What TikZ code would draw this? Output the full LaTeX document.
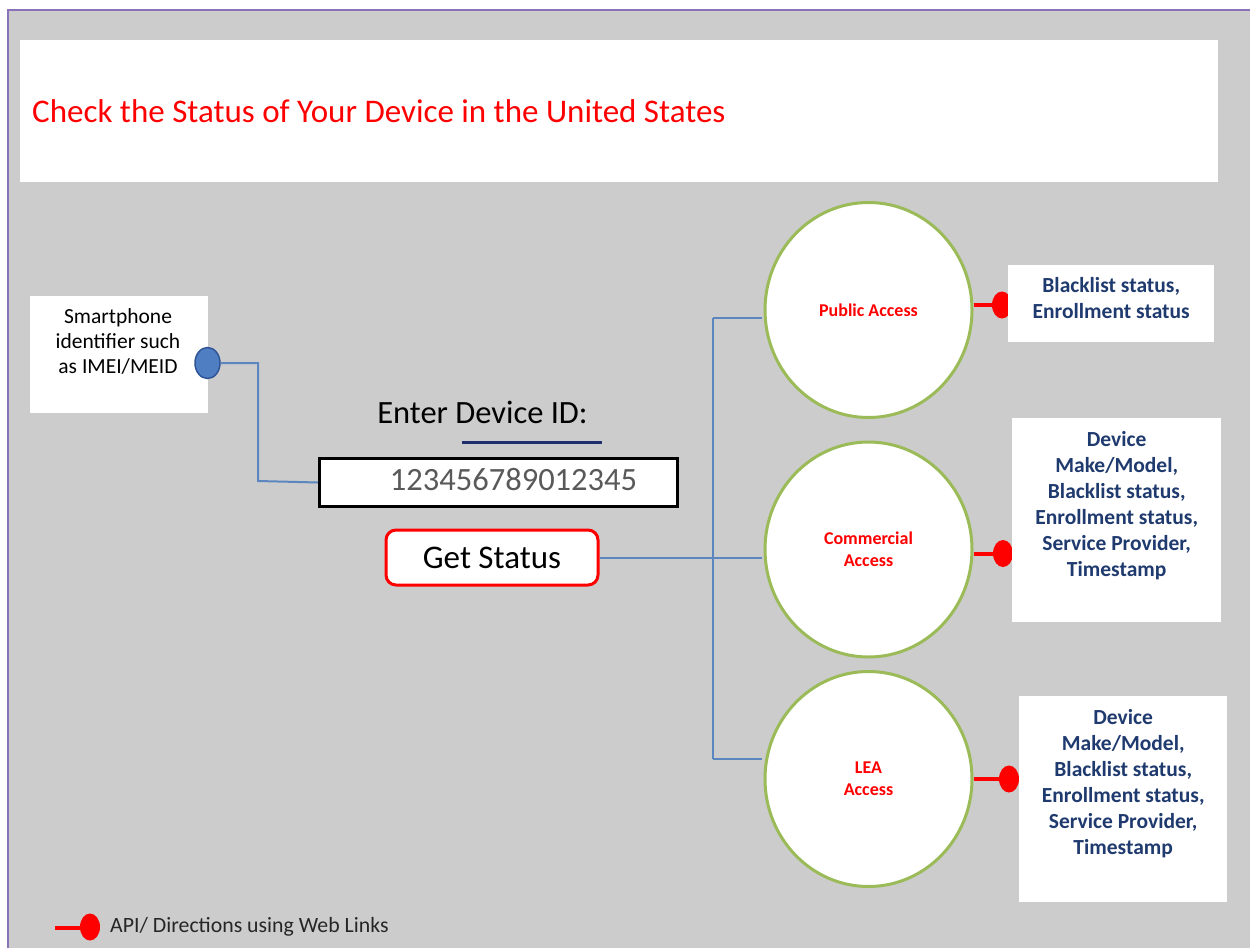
\documentclass[tikz,border=0pt]{standalone}
\usepackage{fontspec}
\setmainfont{Carlito}
\usetikzlibrary{shapes.geometric}

\definecolor{panelgray}{HTML}{CCCCCC}
\definecolor{framepurple}{HTML}{8A72B8}
\definecolor{linkblue}{HTML}{5B86BF}
\definecolor{dotblue}{HTML}{4F7EC2}
\definecolor{dotedge}{HTML}{2F5597}
\definecolor{ringgreen}{HTML}{9BBB59}
\definecolor{infonavy}{HTML}{1F3A6E}
\definecolor{barnavy}{HTML}{1F2F6B}
\definecolor{apired}{HTML}{FF0000}
\definecolor{digitgray}{HTML}{595959}

\tikzset{
	whitebox/.style={rectangle, fill=white, inner sep=0pt, anchor=north west},
	access/.style={ellipse, draw=ringgreen, line width=3pt, fill=white,
		minimum width=207pt, minimum height=215pt, inner sep=0pt,
		text=apired, align=center, font=\fontsize{18}{22}\selectfont\bfseries},
	apidot/.style={ellipse, fill=apired, minimum width=20pt, minimum height=27pt, inner sep=0pt},
	apiline/.style={draw=apired, line width=4pt},
	link/.style={draw=linkblue, line width=2pt},
	infotext/.style={text=infonavy, align=center, inner sep=0pt, anchor=north,
		font=\fontsize{21.5}{26}\selectfont\bfseries},
}

\begin{document}
\begin{tikzpicture}[x=1pt, y=-1pt]

% background %{{{2

	\useasboundingbox (0,0) rectangle (1250,948);
	\fill[white] (0,0) rectangle (1250,948);
	\fill[panelgray] (8,10) rectangle (1250,948);
	\draw[framepurple, line width=2.5pt] (8,948) -- (8,10) -- (1250,10);

% title %{{{2

	\node[whitebox, minimum width=1198pt, minimum height=142pt] (titlebox) at (20,40) {};
	\node[anchor=base west, inner sep=0pt, text=apired, font=\fontsize{33}{40}\selectfont]
	(title) at (32,122) {Check the Status of Your Device in the United States};

% device id %{{{2

	\node[whitebox, minimum width=178pt, minimum height=117pt] (phone) at (30,296) {};
	\node[anchor=north, inner sep=0pt, align=center, font=\fontsize{21.5}{25}\selectfont]
	(phonetext) at (118,308) {Smartphone\\identifier such\\as IMEI/MEID};
	\node[ellipse, fill=dotblue, draw=dotedge, line width=1.5pt, minimum width=25pt,
	minimum height=31pt, inner sep=0pt] (iddot) at (207.5,363) {};

	\node[anchor=base, inner sep=0pt, font=\fontsize{32.5}{36}\selectfont]
	(idlabel) at (482.5,423) {Enter Device ID:};
	\draw[barnavy, line width=3pt] (462,442) -- (602,442);

	\node[whitebox, draw=black, line width=3pt, minimum width=358pt, minimum height=48pt]
	(idbox) at (318,457) {};
	\node[anchor=base, inner sep=0pt, text=digitgray, font=\fontsize{32.5}{36}\selectfont]
	(idnum) at (513.5,490) {123456789012345};

	\node[rectangle, rounded corners=10pt, draw=apired, line width=3pt, fill=white,
	minimum width=212pt, minimum height=55pt, font=\fontsize{33}{36}\selectfont]
	(getstatus) at (492,557.5) {Get Status};

	\coordinate (bend) at (258,481);
	\draw[link] (iddot.east) -| (bend) -- (idbox.west);

% access levels %{{{2

	\node[access] (public) at (868.5,310) {Public Access};
	\node[access] (commercial) at (868.5,549.5) {Commercial\\Access};
	\node[access] (lea) at (868.5,779) {LEA\\Access};

	\coordinate (trunktop) at (713,318);
	\coordinate (trunkbot) at (713,759);
	\draw[link, shorten >=1.5pt] (trunktop) -- (public.west |- trunktop);
	\draw[link] (trunktop) -- (trunkbot);
	\draw[link, shorten >=1.5pt] (trunkbot) -- (lea.west |- trunkbot);
	\draw[link, shorten >=1.5pt] (getstatus.east) -- (getstatus.east -| commercial.west);

% api dots %{{{2

	\node[apidot] (pubdot) at (1002,305) {};
	\node[apidot] (comdot) at (1003,553.5) {};
	\node[apidot] (leadot) at (1009,779) {};

	\draw[apiline] (public.east |- pubdot) -- (pubdot);
	\draw[apiline] (commercial.east |- comdot) -- (comdot);
	\draw[apiline] (lea.east |- leadot) -- (leadot);

% results %{{{2

	\node[whitebox, minimum width=206pt, minimum height=77pt] (pubinfo) at (1008,265) {};
	\node[whitebox, minimum width=209pt, minimum height=204pt] (cominfo) at (1012,418) {};
	\node[whitebox, minimum width=208pt, minimum height=206pt] (leainfo) at (1019,696) {};

	\node[infotext] (pubtext) at ([yshift=-12pt]pubinfo.north)
	{Blacklist status,\\Enrollment status};
	\node[infotext] (comtext) at ([yshift=-13pt]cominfo.north)
	{Device\\Make/Model,\\Blacklist status,\\Enrollment status,\\Service Provider,\\Timestamp};
	\node[infotext] (leatext) at ([yshift=-13pt]leainfo.north)
	{Device\\Make/Model,\\Blacklist status,\\Enrollment status,\\Service Provider,\\Timestamp};

% legend %{{{2

	\node[apidot] (legdot) at (90,927) {};
	\coordinate (legstart) at (55,928);
	\draw[apiline] (legstart) -- (legstart -| legdot.west);
	\node[anchor=base west, inner sep=0pt, text=black!85, font=\fontsize{21.8}{26}\selectfont]
	(legend) at (110,932) {API/ Directions using Web Links};

\end{tikzpicture}
\end{document}
